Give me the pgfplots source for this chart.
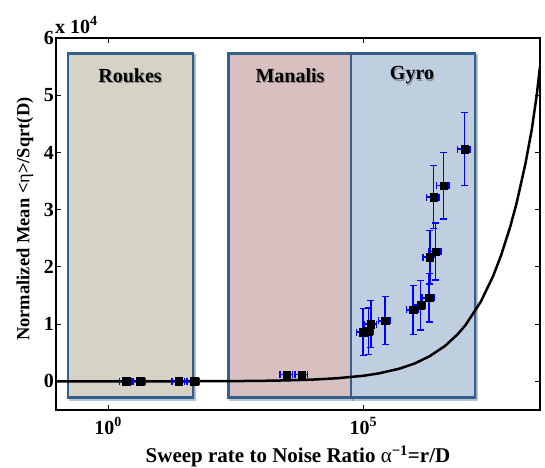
\documentclass[border=0pt]{standalone}
\usepackage{pgfplots}
\pgfplotsset{compat=1.18}
\usepackage{pgfplotstable}
\usepackage{fontspec}
\setmainfont{Liberation Serif}
\usetikzlibrary{shadows}
\definecolor{rouk}{RGB}{214,211,198}
\definecolor{mana}{RGB}{216,192,192}
\definecolor{gyro}{RGB}{191,207,224}
\definecolor{edge}{RGB}{52,94,140}
\definecolor{ebar}{RGB}{0,0,255}

\pgfplotstableread{
x y ey ex
1.00e5 8620 4100 0.27
1.26e5 8740 4100 0.27
1.41e5 10000 4100 0.27
2.69e5 10600 4200 0.27
9.55e5 12500 4300 0.27
1.32e6 13300 4300 0.27
1.95e6 14600 4200 0.27
2.02e6 21700 4700 0.27
2.62e6 22700 5000 0.27
2.39e6 32200 5500 0.27
3.76e6 34200 5800 0.27
9.68e6 40600 6400 0.27
}\gyrodata

\pgfplotstableread{
x y ey ex
2.26 0 0 0.27
4.24 0 0 0.27
24.5 0 0 0.27
48.3 0 0 0.27
}\roukesdata

\pgfplotstableread{
x y ey ex
3.2e3 1200 200 0.27
6.3e3 1200 200 0.27
}\manalisdata

\pgfplotstableread{
x y
0.0955 1
0.3 2
1 3
3 5
10 10
30 17
100 30
300 52
1000 95
3000 170
1e4 310
3e4 540
1e5 980
2e5 1390
5e5 2200
1e6 3100
2e6 4400
4e6 6200
7e6 8200
1e7 9800
2e7 13900
3.5e7 18400
5e7 22000
7.5e7 26900
1e8 31000
1.5e8 38000
2e8 44000
2.5e8 50000
2.9e8 55000
}\curvedata

\newcommand\lblfont{\fontsize{20bp}{24bp}\selectfont\bfseries}

\begin{document}
\begin{tikzpicture}
\begin{axis}[
  at={(0,0)}, anchor=south west,
  scale only axis, width=484bp, height=372bp,
  xmode=log, xmin=0.0955, xmax=2.9e8, ymin=-5000, ymax=60000,
  xtick={1,1e5}, xticklabels={10\textsuperscript{0},10\textsuperscript{5}},
  ytick={0,10000,20000,30000,40000,50000,60000}, yticklabels={0,1,2,3,4,5,6},
  scaled y ticks=false, xminorticks=false, yminorticks=false,
  tick align=inside, major tick length=5bp,
  ticklabel style={font=\lblfont},
  xticklabel style={yshift=-4bp},
  yticklabel style={xshift=1.5bp},
  axis line style={line width=1.2bp},
  every tick/.style={black, line width=1bp},
  xlabel={Sweep rate to Noise Ratio {\mdseries α}\textsuperscript{−1}=r/D},
  ylabel={Normalized Mean <{\mdseries η}>/Sqrt(D)},
  xlabel style={font=\fontsize{21bp}{25bp}\selectfont\bfseries, at={(axis description cs:0.5,-0.142)}, anchor=base},
  ylabel style={font=\fontsize{18.5bp}{22bp}\selectfont\bfseries, at={(axis description cs:-0.064,0.513)}, anchor=center},
  clip mode=individual,
]
% regions
\addplot[fill=rouk, draw=edge, line width=2.5bp, drop shadow={opacity=0.35, shadow xshift=2bp, shadow yshift=-2bp}]
  coordinates {(0.165,-2800) (46.2,-2800) (46.2,57300) (0.165,57300)} -- cycle;
\addplot[fill=mana, draw=edge, line width=2.5bp, drop shadow={opacity=0.35, shadow xshift=2bp, shadow yshift=-2bp}]
  coordinates {(227,-2800) (5.74e4,-2800) (5.74e4,57300) (227,57300)} -- cycle;
\addplot[fill=gyro, draw=edge, line width=2.5bp, drop shadow={opacity=0.35, shadow xshift=2bp, shadow yshift=-2bp}]
  coordinates {(5.74e4,-2800) (1.54e7,-2800) (1.54e7,57300) (5.74e4,57300)} -- cycle;

\node[text=black, opacity=0.3, font=\lblfont] at (axis cs:2.7,53500) [xshift=1.2bp, yshift=-1.5bp] {Roukes};
\node[text=black, font=\lblfont] at (axis cs:2.7,53500) {Roukes};
\node[text=black, opacity=0.3, font=\lblfont] at (axis cs:3670,53500) [xshift=1.2bp, yshift=-1.5bp] {Manalis};
\node[text=black, font=\lblfont] at (axis cs:3670,53500) {Manalis};
\node[text=black, opacity=0.3, font=\lblfont] at (axis cs:9.0e5,53500) [xshift=1.2bp, yshift=-1.5bp] {Gyro};
\node[text=black, font=\lblfont] at (axis cs:9.0e5,53500) {Gyro};

% model curve
\addplot[black, line width=2.5bp, no marks] table[x=x, y=y] {\curvedata};

% measurements
\pgfplotsset{meas/.style={color=ebar, only marks, mark=square*, mark size=3.7bp,
  mark options={draw=black, fill=black},
  error bars/y dir=both, error bars/y explicit,
  error bars/x dir=both, error bars/x explicit relative,
  error bars/error bar style={draw=ebar, color=ebar, line width=1.6bp},
  error bars/error mark options={draw=ebar, color=ebar, rotate=90, line width=1.3bp, mark size=3.5bp}}}
\addplot[meas] table[x=x, y=y, y error=ey, x error=ex] {\roukesdata};
\addplot[meas] table[x=x, y=y, y error=ey, x error=ex] {\manalisdata};
\addplot[meas] table[x=x, y=y, y error=ey, x error=ex] {\gyrodata};

\node[anchor=base west, font=\lblfont, inner sep=0pt]
  at (rel axis cs:0,1) [xshift=-1bp, yshift=5bp] {x 10\textsuperscript{4}};
\end{axis}
\pgfresetboundingbox
\useasboundingbox (-56bp,-58bp) rectangle (489bp,410bp);
\end{tikzpicture}
\end{document}
